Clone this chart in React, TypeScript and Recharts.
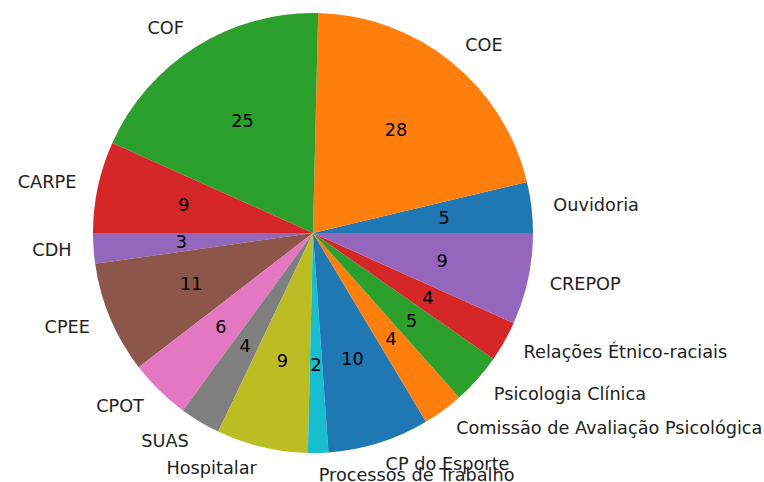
import React from 'react';
import { PieChart, Pie, Cell } from 'recharts';

// Comissões e contagens (sentido anti-horário a partir das 3h)
const labels = [
  'Ouvidoria',
  'COE',
  'COF',
  'CARPE',
  'CDH',
  'CPEE',
  'CPOT',
  'SUAS',
  'Hospitalar',
  'Processos de Trabalho',
  'CP do Esporte',
  'Comissão de Avaliação Psicológica',
  'Psicologia Clínica',
  'Relações Étnico-raciais',
  'CREPOP',
];
const counts = [5, 28, 25, 9, 3, 11, 6, 4, 9, 2, 10, 4, 5, 4, 9];

// matplotlib tab10
const palette = [
  '#1f77b4', '#ff7f0e', '#2ca02c', '#d62728', '#9467bd',
  '#8c564b', '#e377c2', '#7f7f7f', '#bcbd22', '#17becf',
];

const data = labels.map((name, i) => ({ name, value: counts[i] }));

const RADIAN = Math.PI / 180;
const FONT = 'DejaVu Sans, sans-serif';

function renderLabel(props: any) {
  const { cx, cy, midAngle, outerRadius, value, name } = props;
  const cos = Math.cos(-midAngle * RADIAN);
  const sin = Math.sin(-midAngle * RADIAN);
  const lx = cx + outerRadius * 1.1 * cos;
  const ly = cy + outerRadius * 1.1 * sin;
  const vx = cx + outerRadius * 0.6 * cos;
  const vy = cy + outerRadius * 0.6 * sin;
  return (
    <g>
      <text
        x={lx}
        y={ly}
        textAnchor={cos >= 0 ? 'start' : 'end'}
        dominantBaseline="central"
        fill="#222"
        fontSize={17.7}
        fontFamily={FONT}
      >
        {name}
      </text>
      <text
        x={vx}
        y={vy}
        textAnchor="middle"
        dominantBaseline="central"
        fill="#000"
        fontSize={17.7}
        fontFamily={FONT}
      >
        {value}
      </text>
    </g>
  );
}

export default function App() {
  return (
    <div style={{ position: 'fixed', left: 0, top: 0, background: '#fff' }}>
      <PieChart width={764} height={482} margin={{ top: 0, right: 0, bottom: 0, left: 0 }}>
        <Pie
          data={data}
          dataKey="value"
          nameKey="name"
          cx={313}
          cy={233}
          outerRadius={220}
          startAngle={0}
          endAngle={360}
          stroke="none"
          labelLine={false}
          label={renderLabel}
          isAnimationActive={false}
        >
          {data.map((d, i) => (
            <Cell key={d.name} fill={palette[i % palette.length]} />
          ))}
        </Pie>
      </PieChart>
    </div>
  );
}
